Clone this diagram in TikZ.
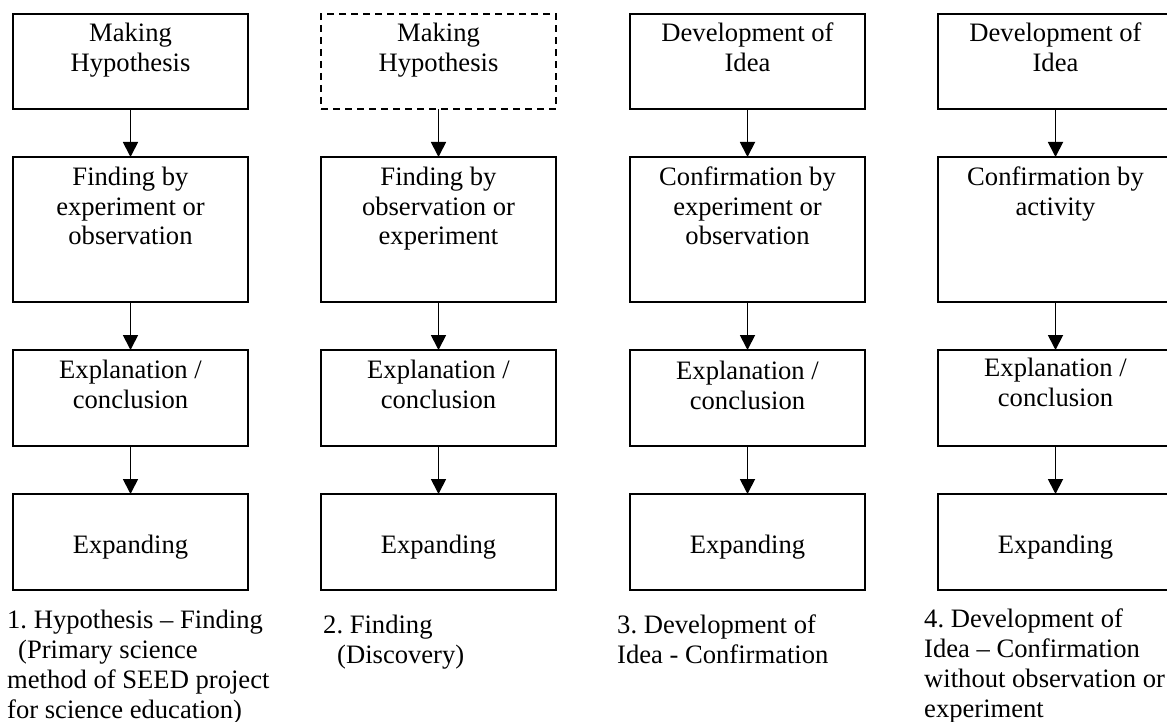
\documentclass[tikz,border=0pt]{standalone}
\usepackage{fontspec}
\setmainfont{Liberation Serif}
\usetikzlibrary{arrows.meta}

% text block of a stage box: height, first baseline depth, lines
\newcommand\stagetext[3]{\parbox[c][#1pt][t]{235pt}{\centering\fontsize{26.6}{30}\selectfont\rule{0pt}{#2pt}#3}}

\begin{document}
\frenchspacing
\begin{tikzpicture}[x=1pt,y=-1pt,
  stage/.style={draw, line width=1.8pt, inner sep=0pt, outer sep=0pt, anchor=north west},
  guess/.style={stage, line width=1.6pt, dash pattern=on 7pt off 5pt},
  flow/.style={line width=1.8pt, -{Triangle[length=15pt,width=15pt]}},
  caption/.style={anchor=north west, inner sep=0pt, align=left,
                  font=\fontsize{26.6}{30}\selectfont}]
\useasboundingbox (0,0) rectangle (1167,722);

% column 1: hypothesis - finding
\node[stage] (a1) at (13,14)  {\stagetext{95}{28}{Making\\Hypothesis}};
\node[stage] (a2) at (13,157) {\stagetext{145}{28}{Finding by\\experiment or\\observation}};
\node[stage] (a3) at (13,350) {\stagetext{96}{28}{Explanation /\\conclusion}};
\node[stage] (a4) at (13,494) {\stagetext{96}{59}{Expanding}};
\draw[flow] (a1.south) -- (a2.north);
\draw[flow] (a2.south) -- (a3.north);
\draw[flow] (a3.south) -- (a4.north);
\node[caption] (c1) at (7,600) {\rule{0pt}{28pt}1. Hypothesis -- Finding\\
  \hspace*{11pt}(Primary science\\method of SEED project\\for science education)};

% column 2: finding (discovery)
\node[guess] (b1) at (321,14)  {\stagetext{95}{28}{Making\\Hypothesis}};
\node[stage] (b2) at (321,157) {\stagetext{145}{28}{Finding by\\observation or\\experiment}};
\node[stage] (b3) at (321,350) {\stagetext{96}{28}{Explanation /\\conclusion}};
\node[stage] (b4) at (321,494) {\stagetext{96}{59}{Expanding}};
\draw[flow] (b1.south) -- (b2.north);
\draw[flow] (b2.south) -- (b3.north);
\draw[flow] (b3.south) -- (b4.north);
\node[caption] (c2) at (323,605) {\rule{0pt}{28pt}2. Finding\\\hspace*{14pt}(Discovery)};

% column 3: development of idea - confirmation
\node[stage] (d1) at (630,14)  {\stagetext{95}{28}{Development of\\Idea}};
\node[stage] (d2) at (630,157) {\stagetext{145}{28}{Confirmation by\\experiment or\\observation}};
\node[stage] (d3) at (630,350) {\stagetext{96}{29}{Explanation /\\conclusion}};
\node[stage] (d4) at (630,494) {\stagetext{96}{59}{Expanding}};
\draw[flow] (d1.south) -- (d2.north);
\draw[flow] (d2.south) -- (d3.north);
\draw[flow] (d3.south) -- (d4.north);
\node[caption] (c3) at (617,605) {\rule{0pt}{28pt}3. Development of\\Idea - Confirmation};

% column 4: confirmation without observation or experiment
\node[stage] (e1) at (938,14)  {\stagetext{95}{28}{Development of\\Idea}};
\node[stage] (e2) at (938,157) {\stagetext{145}{28}{Confirmation by\\activity}};
\node[stage] (e3) at (938,350) {\stagetext{96}{26}{Explanation /\\conclusion}};
\node[stage] (e4) at (938,494) {\stagetext{96}{59}{Expanding}};
\draw[flow] (e1.south) -- (e2.north);
\draw[flow] (e2.south) -- (e3.north);
\draw[flow] (e3.south) -- (e4.north);
\node[caption] (c4) at (924,599) {\rule{0pt}{28pt}4. Development of\\Idea -- Confirmation\\without observation or\\experiment};
\end{tikzpicture}
\end{document}
